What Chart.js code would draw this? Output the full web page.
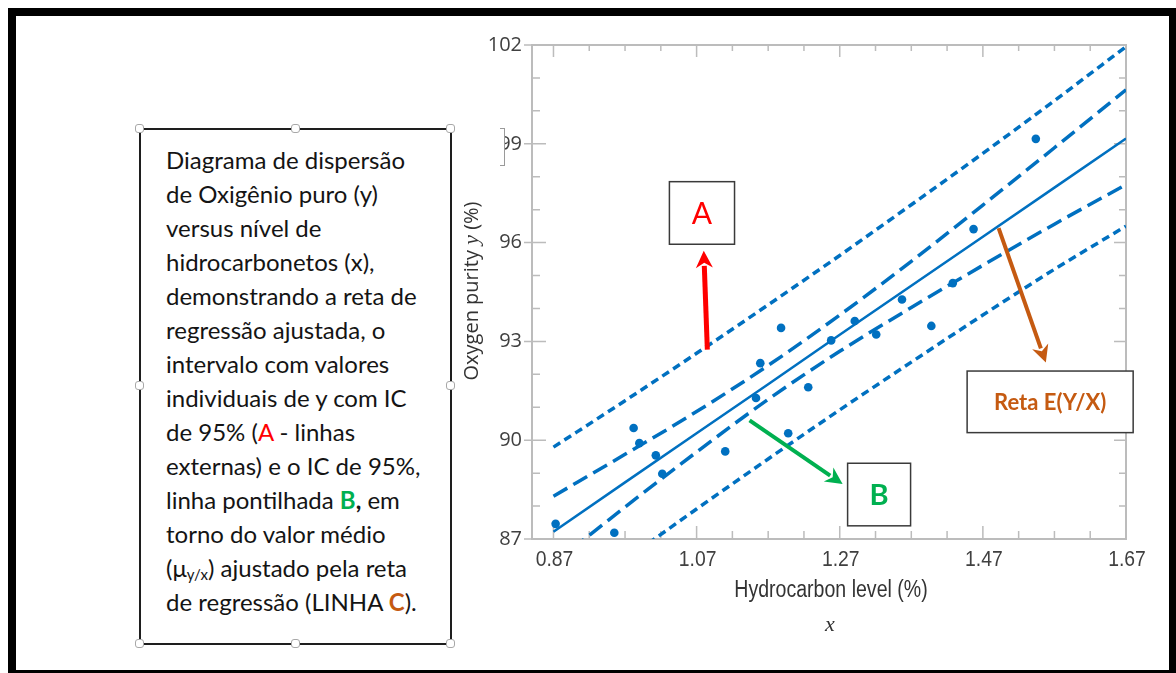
<!DOCTYPE html>
<html>
<head>
<meta charset="utf-8">
<script src="https://cdn.jsdelivr.net/npm/chart.js"></script>
<style>
  html, body { margin: 0; padding: 0; background: #fff; }
  body { width: 1176px; height: 673px; position: relative; overflow: hidden; }
  #frame { position: absolute; left: 8px; top: 8px; width: 1169px; height: 670px; box-sizing: border-box; border: 8px solid #000; z-index: 5; pointer-events: none; }
  #wrap { position: absolute; left: 440px; top: 20px; width: 730px; height: 619px; }
  #note { position: absolute; left: 139px; top: 128px; width: 313px; height: 517px; box-sizing: border-box; border: 2px solid #1e1e1e; background: #fff; z-index: 3; }
  #note p { margin: 0; position: absolute; left: 25px; top: 13px; font: 24px Lato, "Open Sans", sans-serif; line-height: 34px; color: #141414; white-space: nowrap; }
  #note sub { font-size: 15px; vertical-align: -3px; line-height: 0; }
  .h { position: absolute; width: 7px; height: 7px; border: 1px solid #a8a8a8; background: #fff; border-radius: 3px; z-index: 4; }
  #mask { position: absolute; left: 486px; top: 128px; width: 18px; height: 37px; background: #fff; z-index: 4; }
  #brk { position: absolute; left: 500px; top: 128px; width: 4px; height: 36px; border: 1px solid #9a9a9a; border-left: none; z-index: 4; }
</style>
</head>
<body>
<div id="wrap"><canvas id="myChart"></canvas></div>
<div id="note"><p>Diagrama de dispersão<br>de Oxigênio puro (y)<br>versus nível de<br>hidrocarbonetos (x),<br>demonstrando a reta de<br>regressão ajustada, o<br>intervalo com valores<br>individuais de y com IC<br>de 95% (<span style="color:#ff0000">A</span> - linhas<br>externas) e o IC de 95%,<br>linha pontilhada <b style="color:#00b050">B</b><b>,</b> em<br>torno do valor médio<br>(μ<sub>y/x</sub>) ajustado pela reta<br>de regressão (LINHA <b style="color:#c55a11">C</b>).</p></div>
<div class="h" style="left:135px;top:124px"></div>
<div class="h" style="left:291px;top:124px"></div>
<div class="h" style="left:446px;top:124px"></div>
<div class="h" style="left:135px;top:381px"></div>
<div class="h" style="left:446px;top:381px"></div>
<div class="h" style="left:135px;top:639px"></div>
<div class="h" style="left:291px;top:639px"></div>
<div class="h" style="left:446px;top:639px"></div>
<div id="mask"></div><div id="brk"></div>
<div id="frame"></div>
<script>
//observations
const obsX = [0.873, 0.955, 0.982, 0.990, 1.013, 1.022, 1.110, 1.153, 1.159, 1.188, 1.198, 1.226, 1.258, 1.291, 1.321, 1.357, 1.398, 1.428, 1.457, 1.544];
const obsY = [87.46, 87.19, 90.37, 89.91, 89.54, 88.98, 89.66, 91.28, 92.34, 93.41, 90.21, 91.61, 93.03, 93.62, 93.21, 94.27, 93.47, 94.77, 96.41, 99.15];

//curves read at these x positions
const bandX   = [0.87, 0.97, 1.07, 1.17, 1.27, 1.37, 1.47, 1.57, 1.67];
const fitY    = [87.22, 88.72, 90.21, 91.70, 93.20, 94.69, 96.18, 97.67, 99.16];
const ciUp    = [88.30, 89.57, 90.87, 92.27, 93.80, 95.43, 97.14, 98.88, 100.64];
const ciLow   = [86.25, 87.97, 89.64, 91.24, 92.70, 94.03, 95.31, 96.56, 97.76];
const piUp    = [89.79, 91.20, 92.64, 94.11, 95.61, 97.15, 98.71, 100.31, 101.95];
const piLow   = [84.78, 86.36, 87.91, 89.43, 90.92, 92.37, 93.80, 95.19, 96.50];

//axis ticks
const xTicks = [0.87, 1.07, 1.27, 1.47, 1.67];
const xMinor = [0.92, 0.97, 1.02, 1.12, 1.17, 1.22, 1.32, 1.37, 1.42, 1.52, 1.57, 1.62];
const yTicks = [87, 90, 93, 96, 99, 102];
const yMinor = [88, 89, 91, 92, 94, 95, 97, 98, 100, 101];

const blue = '#0070c0';
const axisGrey = '#bcbcbc';
const narrow = '"Liberation Sans", Arial, sans-serif';

function pairs(xs, ys){
    let out = [];
    for(let i=0;i<xs.length;i++) out.push({x: xs[i], y: ys[i]});
    return out;
}

//callouts, in data units
const callouts = [
    {tail: [1.085, 92.75], head: [1.080, 95.75], color: '#ff0000', width: 5},
    {tail: [1.144, 90.60], head: [1.274, 88.67], color: '#00b050', width: 4},
    {tail: [1.492, 96.44], head: [1.558, 92.36], color: '#c55a11', width: 4}
];
const boxes = [
    {x1: 1.032, y1: 97.85, x2: 1.123, y2: 95.95, text: 'A', color: '#ff0000', font: '30px Lato'},
    {x1: 1.281, y1: 89.30, x2: 1.369, y2: 87.40, text: 'B', color: '#00b050', font: 'bold 29px Lato'},
    {x1: 1.448, y1: 92.10, x2: 1.680, y2: 90.23, text: 'Reta E(Y/X)', color: '#c55a11', font: 'bold 22px Lato'}
];

function arrow(ctx, x1, y1, x2, y2, color, w){
    const a = Math.atan2(y2-y1, x2-x1);
    const hl = 17, hw = 17;
    const bx = x2 - hl*Math.cos(a), by = y2 - hl*Math.sin(a);
    ctx.strokeStyle = color;
    ctx.lineWidth = w;
    ctx.beginPath(); ctx.moveTo(x1, y1); ctx.lineTo(bx + 2*Math.cos(a), by + 2*Math.sin(a)); ctx.stroke();
    ctx.fillStyle = color;
    ctx.beginPath();
    ctx.moveTo(x2, y2);
    ctx.lineTo(bx + hw/2*Math.sin(a), by - hw/2*Math.cos(a));
    ctx.lineTo(bx + 5*Math.cos(a), by + 5*Math.sin(a));
    ctx.lineTo(bx - hw/2*Math.sin(a), by + hw/2*Math.cos(a));
    ctx.closePath(); ctx.fill();
}

//condensed text: horizontal squeeze of a regular face
function squeezed(ctx, text, x, y, font, sx){
    ctx.save();
    ctx.font = font;
    ctx.translate(x, y);
    ctx.scale(sx, 1);
    ctx.fillText(text, 0, 0);
    ctx.restore();
}

//frame with inward ticks on all four sides
const frameTicks = {
    id: 'frameTicks',
    beforeDatasetsDraw(chart){
        const {ctx, chartArea: a, scales: {x, y}} = chart;
        ctx.save();
        ctx.strokeStyle = axisGrey;
        ctx.lineWidth = 2;
        ctx.strokeRect(a.left, a.top, a.right - a.left, a.bottom - a.top);
        ctx.lineWidth = 1.5;
        ctx.beginPath();
        for(let v of xTicks){
            const p = x.getPixelForValue(v);
            ctx.moveTo(p, a.bottom); ctx.lineTo(p, a.bottom - 13);
            ctx.moveTo(p, a.top); ctx.lineTo(p, a.top + 12);
        }
        for(let v of xMinor){
            const p = x.getPixelForValue(v);
            ctx.moveTo(p, a.bottom); ctx.lineTo(p, a.bottom - 8);
            ctx.moveTo(p, a.top); ctx.lineTo(p, a.top + 6);
        }
        for(let v of yTicks){
            const p = y.getPixelForValue(v);
            ctx.moveTo(a.left - 8, p); ctx.lineTo(a.left + 14, p);
            ctx.moveTo(a.right, p); ctx.lineTo(a.right - 12, p);
        }
        for(let v of yMinor){
            const p = y.getPixelForValue(v);
            ctx.moveTo(a.left, p); ctx.lineTo(a.left + 8, p);
            ctx.moveTo(a.right, p); ctx.lineTo(a.right - 7, p);
        }
        ctx.stroke();
        ctx.restore();
    },
    afterDraw(chart){
        const {ctx, chartArea: a, scales: {x, y}} = chart;
        ctx.save();
        ctx.fillStyle = '#404040';
        ctx.textBaseline = 'middle';
        ctx.textAlign = 'center';
        //x tick labels (condensed face)
        for(let v of xTicks){
            squeezed(ctx, v.toFixed(2), x.getPixelForValue(v) + 1, a.bottom + 21, '22px ' + narrow, 0.88);
        }
        //axis titles
        ctx.fillStyle = '#333';
        squeezed(ctx, 'Hydrocarbon level (%)', (a.left + a.right)/2 + 2, a.bottom + 52, '23px ' + narrow, 0.85);
        ctx.font = 'italic 22px "Liberation Serif", serif';
        ctx.fillText('x', (a.left + a.right)/2 + 1, a.bottom + 86);

        const parts = [['Oxygen purity ', '20px "Open Sans"'], ['y', 'italic 22px "Liberation Serif"'], [' (%)', '20px "Open Sans"']];
        let total = 0;
        for(let p of parts){ ctx.font = p[1]; total += ctx.measureText(p[0]).width; }
        ctx.translate(a.left - 60, (a.top + a.bottom)/2 - 1);
        ctx.rotate(-Math.PI/2);
        ctx.textAlign = 'left';
        let cx = -total/2;
        for(let p of parts){ ctx.font = p[1]; ctx.fillText(p[0], cx, 0); cx += ctx.measureText(p[0]).width; }
        ctx.restore();

        //callout arrows and boxes
        ctx.save();
        for(let c of callouts){
            arrow(ctx, x.getPixelForValue(c.tail[0]), y.getPixelForValue(c.tail[1]),
                  x.getPixelForValue(c.head[0]), y.getPixelForValue(c.head[1]), c.color, c.width);
        }
        for(let b of boxes){
            const l = x.getPixelForValue(b.x1), r = x.getPixelForValue(b.x2);
            const t = y.getPixelForValue(b.y1), btm = y.getPixelForValue(b.y2);
            ctx.fillStyle = '#fff';
            ctx.fillRect(l, t, r - l, btm - t);
            ctx.strokeStyle = '#3a3a3a';
            ctx.lineWidth = 1.5;
            ctx.strokeRect(l, t, r - l, btm - t);
            ctx.fillStyle = b.color;
            ctx.font = b.font;
            ctx.textAlign = 'center';
            ctx.textBaseline = 'middle';
            ctx.fillText(b.text, (l + r)/2, (t + btm)/2 + 1);
        }
        ctx.restore();
    }
};

const data = {
    datasets: [
        {
            label: 'observations',
            data: pairs(obsX, obsY),
            backgroundColor: blue,
            borderWidth: 0,
            pointRadius: 4.3
        },
        {
            label: 'fitted line',
            data: pairs(bandX, fitY),
            showLine: true,
            borderColor: blue,
            borderWidth: 2.5,
            pointRadius: 0
        },
        {
            label: 'CI upper',
            data: pairs(bandX, ciUp),
            showLine: true,
            borderColor: blue,
            borderWidth: 3.5,
            borderDash: [16, 7],
            cubicInterpolationMode: 'monotone',
            pointRadius: 0
        },
        {
            label: 'CI lower',
            data: pairs(bandX, ciLow),
            showLine: true,
            borderColor: blue,
            borderWidth: 3.5,
            borderDash: [16, 7],
            cubicInterpolationMode: 'monotone',
            pointRadius: 0
        },
        {
            label: 'PI upper',
            data: pairs(bandX, piUp),
            showLine: true,
            borderColor: blue,
            borderWidth: 3.5,
            borderDash: [8, 5],
            cubicInterpolationMode: 'monotone',
            pointRadius: 0
        },
        {
            label: 'PI lower',
            data: pairs(bandX, piLow),
            showLine: true,
            borderColor: blue,
            borderWidth: 3.5,
            borderDash: [8, 5],
            cubicInterpolationMode: 'monotone',
            pointRadius: 0
        }
    ]
};

const config = {
    type: 'scatter',
    data: data,
    options: {
        responsive: true,
        maintainAspectRatio: false,
        animation: false,
        layout: {padding: {top: 25, right: 44, left: 0, bottom: 0}},
        plugins: {
            legend: {display: false},
            tooltip: {enabled: false}
        },
        scales: {
            x: {
                type: 'linear',
                min: 0.84,
                max: 1.67,
                grid: {display: false, drawTicks: false},
                border: {display: false},
                afterBuildTicks: s => { s.ticks = xTicks.map(v => ({value: v})); },
                afterFit: s => { s.height = 100; },
                ticks: {display: false}
            },
            y: {
                min: 87,
                max: 102,
                grid: {display: false, drawTicks: false},
                border: {display: false},
                afterBuildTicks: s => { s.ticks = yTicks.map(v => ({value: v})); },
                afterFit: s => { s.width = 92; },
                ticks: {
                    padding: 10,
                    color: '#404040',
                    font: {family: '"Open Sans", sans-serif', size: 20},
                    callback: v => '' + v
                }
            }
        }
    },
    plugins: [frameTicks]
};

const ctx = document.getElementById('myChart').getContext('2d');
const myChart = new Chart(ctx, config);
</script>
</body>
</html>
